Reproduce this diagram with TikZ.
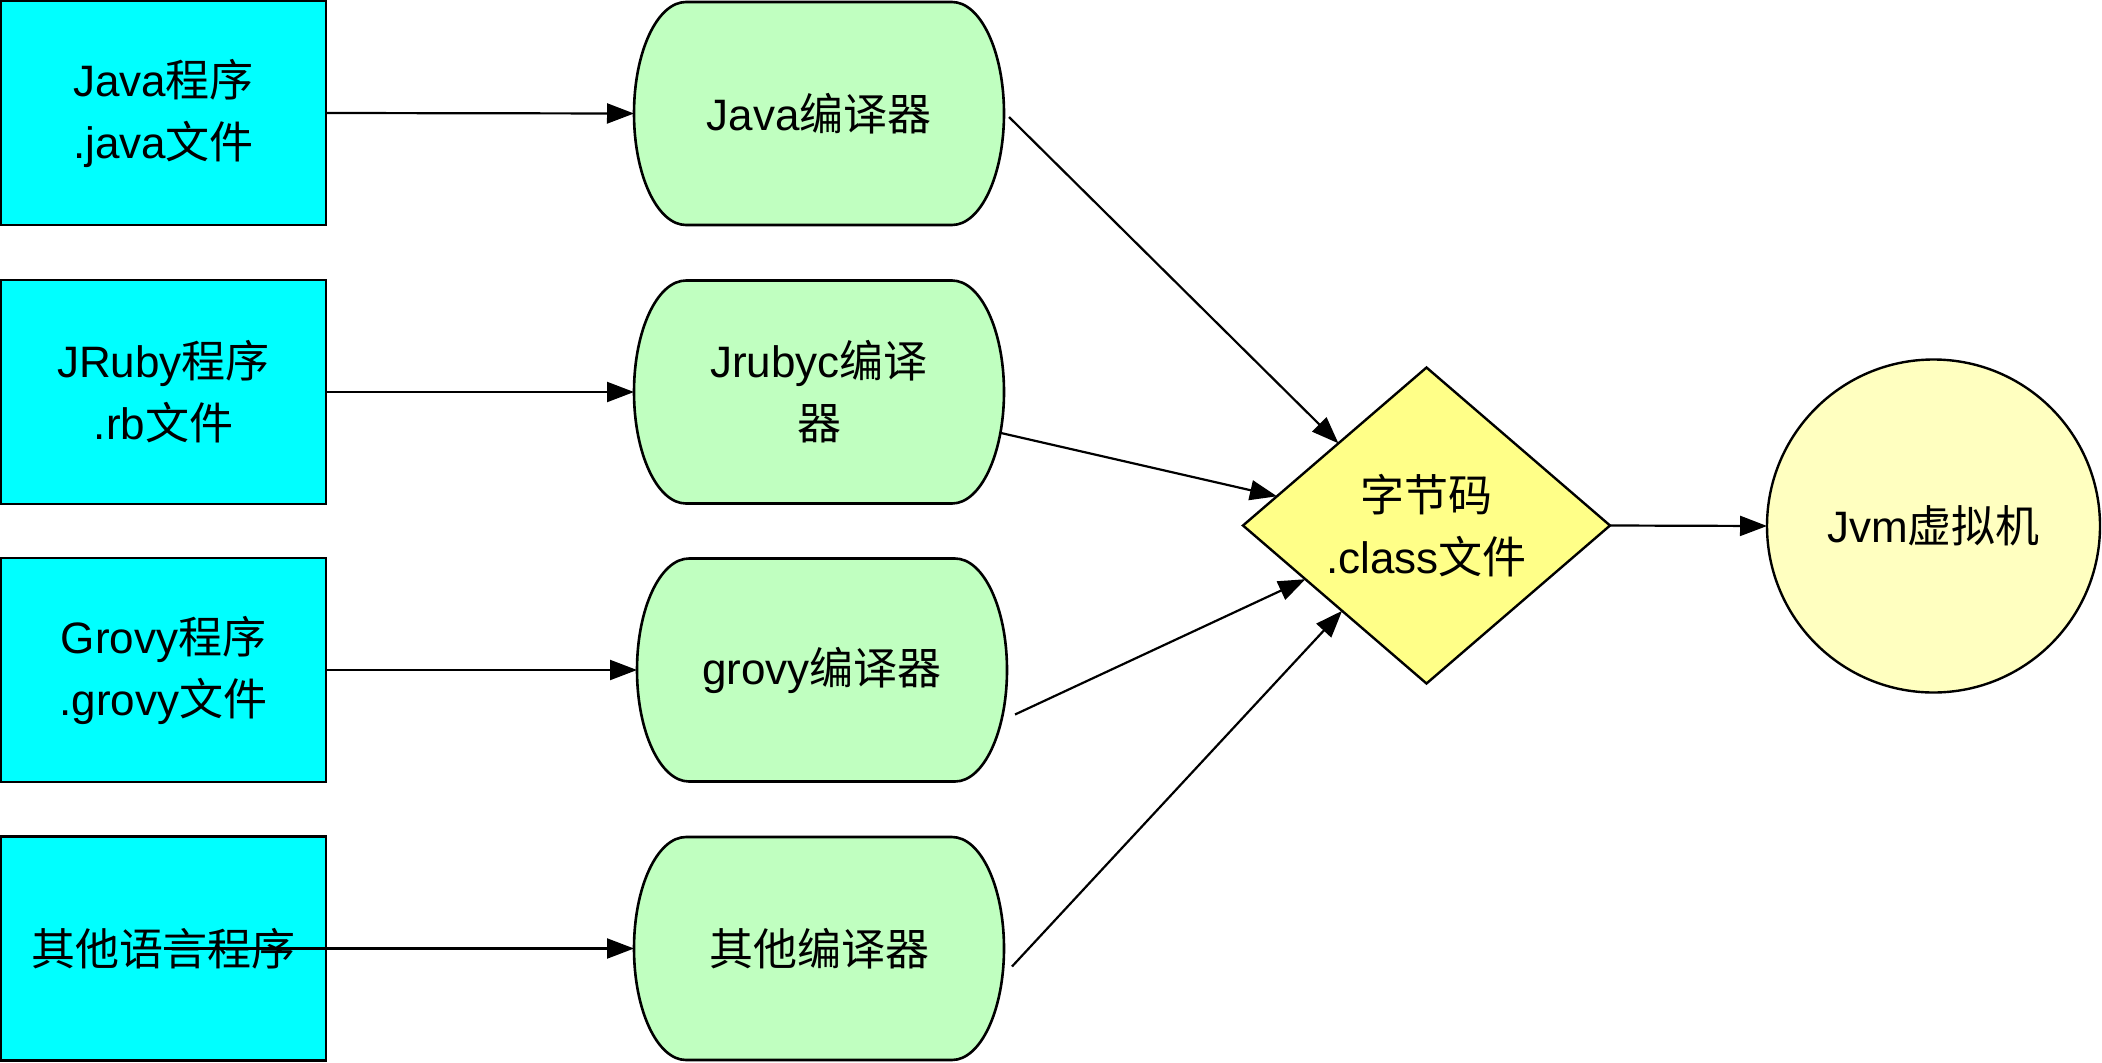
\documentclass[tikz,border=0pt]{standalone}
\usepackage{fontspec}
\setmainfont{Liberation Sans}
\newfontfamily\cjkfont{Noto Sans CJK SC}
\newcommand{\zh}[1]{{\cjkfont #1}}
\usetikzlibrary{shapes.geometric,arrows.meta,calc}
\definecolor{srccyan}{HTML}{00FFFF}
\definecolor{compgreen}{HTML}{C0FFC0}
\definecolor{codeyellow}{HTML}{FFFF88}
\definecolor{jvmyellow}{HTML}{FFFFC0}
\tikzset{
  lbl/.style={font=\fontsize{44}{62}\selectfont, align=center, text=black},
  srcbox/.style={lbl, rectangle, draw=black, line width=2.6pt, fill=srccyan,
    minimum width=325pt, minimum height=224pt, inner sep=0pt, outer sep=0pt},
  compshape/.style={draw=black, line width=2.6pt, fill=compgreen},
  comptext/.style={lbl, rectangle, minimum width=370pt, minimum height=223pt,
    inner sep=0pt, outer sep=0pt},
  codebox/.style={lbl, diamond, draw=black, line width=2.4pt, fill=codeyellow,
    minimum width=367pt, minimum height=316pt, inner sep=0pt, outer sep=0pt},
  jvmbox/.style={lbl, circle, draw=black, line width=2.4pt, fill=jvmyellow,
    minimum size=333pt, inner sep=0pt, outer sep=0pt},
  conn/.style={draw=black, line width=2.2pt, -{Triangle[length=27pt,width=20pt]}}
}
\newcommand{\compnode}[4]{%
  \filldraw[compshape] (#2-133,#3-111.5) -- (#2+133,#3-111.5)
    arc[start angle=90,end angle=-90,x radius=52pt,y radius=111.5pt]
    -- (#2-133,#3+111.5)
    arc[start angle=270,end angle=90,x radius=52pt,y radius=111.5pt] -- cycle;
  \node[comptext] (#1) at (#2,#3) {#4};
}
\begin{document}
\begin{tikzpicture}[x=1pt,y=-1pt]
\path[use as bounding box, fill=white] (0,0) rectangle (2102,1063);

% source program boxes
\node[srcbox] (b1) at (163.5,113) {Java\zh{程序}\\.java\zh{文件}};
\node[srcbox] (b2) at (163.5,392) {JRuby\zh{程序}\\.rb\zh{文件}};
\node[srcbox] (b3) at (163.5,670) {Grovy\zh{程序}\\.grovy\zh{文件}};
\node[srcbox] (b4) at (163.5,948.5) {\zh{其他语言程序}};

% compilers
\compnode{c1}{819}{113.5}{Java\zh{编译器}}
\compnode{c2}{819}{392}{Jrubyc\zh{编译}\\\zh{器}}
\compnode{c3}{822}{670}{grovy\zh{编译器}}
\compnode{c4}{819}{948.5}{\zh{其他编译器}}

% bytecode and JVM
\node[codebox] (d) at (1426.5,525.5) {\zh{字节码}\\.class\zh{文件}};
\node[jvmbox] (j) at (1933.5,526) {Jvm\zh{虚拟机}};

% connectors
\draw[conn] (b1.east) -- (c1.west);
\draw[conn] (b2.east) -- (c2.west);
\draw[conn] (b3.east) -- (c3.west);
\draw[conn] (b4.center) -- (c4.west);

\coordinate (s1) at ([shift={(5,3.5)}]c1.east);
\coordinate (s2) at ([shift={(-3,41)}]c2.east);
\coordinate (s3) at ([shift={(8,44.5)}]c3.east);
\coordinate (s4) at ([shift={(8,18)}]c4.east);

\draw[conn] (s1) -- ($(d.west)!0.52!(d.north)$);
\draw[conn] (s2) -- ($(d.west)!0.185!(d.north)$);
\draw[conn] (s3) -- ($(d.west)!0.34!(d.south)$);
\draw[conn] (s4) -- ($(d.west)!0.54!(d.south)$);
\draw[conn] (d.east) -- (j.west);
\end{tikzpicture}
\end{document}
